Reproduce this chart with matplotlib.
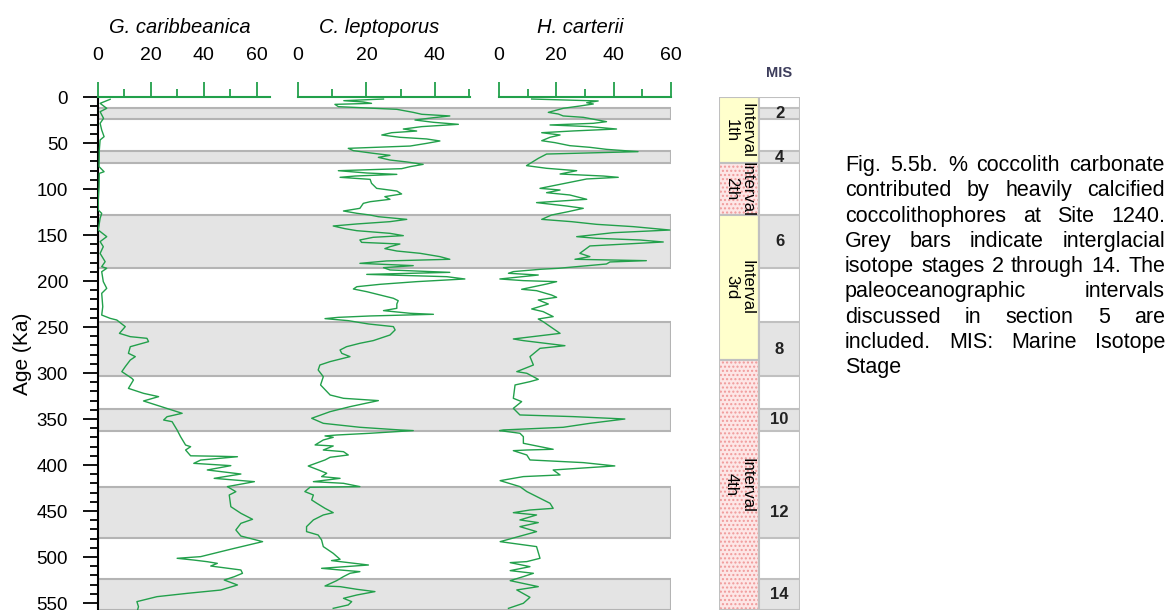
import numpy as np
import matplotlib
matplotlib.use('Agg')
import matplotlib.pyplot as plt
from matplotlib import font_manager
from matplotlib.patches import Rectangle
from matplotlib.ticker import MultipleLocator

# ---- data (age in Ka, % coccolith carbonate) ----
carib = np.array([
    (2.5, 4.6), (6.9, 0.8), (12.3, 3.3), (16.0, 0.8), (23.2, 2.1), (28.6, 0.8),
    (35.9, 1.4), (43.1, 2.3), (46.7, 0.8), (57.6, 0.5), (75.7, 0.4), (81.2, 2.3),
    (83.0, 0.5), (97.5, 0.4), (112.0, 0.1), (122.8, 0.1), (126.5, 1.4), (131.9, 0.8),
    (144.6, 0.1), (151.8, 3.3), (157.2, 0.8), (162.7, 2.0), (170.0, 0.8), (179.0, 2.7),
    (184.4, 1.4), (186.2, 3.3), (189.9, 1.4), (200.7, 2.0), (208.0, 3.3), (213.4, 1.4),
    (227.9, 1.8), (237.0, 1.4), (240.6, 4.6), (242.4, 7.1), (249.6, 10.3), (256.9, 8.1),
    (260.5, 12.2), (262.3, 18.5), (265.9, 19.1), (271.4, 12.2), (278.6, 11.5), (282.2, 14.1),
    (285.9, 12.2), (293.1, 10.3), (298.5, 9.0), (305.8, 12.8), (307.6, 13.4), (316.7, 11.5),
    (322.1, 17.2), (325.7, 22.9), (330.4, 17.2), (343.8, 31.8), (347.5, 26.1), (351.1, 24.8),
    (352.9, 28.0), (362.0, 29.9), (369.2, 31.2), (378.3, 33.1), (380.1, 35.0), (383.7, 33.1),
    (390.0, 35.0), (390.5, 45.8), (391.0, 52.7), (394.6, 38.8), (398.2, 36.2), (400.7, 50.2),
    (405.4, 41.3), (409.8, 54.0), (414.5, 43.9), (418.1, 59.1), (423.5, 48.9), (429.0, 52.1),
    (432.6, 49.6), (445.3, 50.2), (452.5, 54.0), (459.0, 58.4), (463.4, 54.0), (470.6, 52.1),
    (477.2, 54.0), (483.3, 62.2), (490.6, 51.5), (494.2, 46.4), (499.6, 38.8), (501.4, 29.9),
    (503.3, 36.2), (505.1, 41.3), (506.9, 45.1), (509.8, 42.6), (514.1, 54.0), (517.7, 54.6),
    (521.4, 51.5), (525.0, 47.7), (530.4, 52.7), (535.9, 46.4), (539.5, 33.7), (543.1, 22.3),
    (548.5, 14.7), (554.0, 15.3), (557.0, 15.0),
])

lepto = np.array([
    (2.2, 25.0), (4.0, 13.4), (5.4, 19.1), (6.9, 21.5), (8.0, 10.8), (10.5, 11.8),
    (13.4, 28.9), (16.7, 33.7), (18.8, 36.2), (20.6, 44.4), (22.5, 39.6), (25.0, 34.2),
    (27.5, 39.6), (29.7, 46.9), (32.2, 36.2), (34.8, 30.8), (37.0, 34.7), (38.8, 27.4),
    (41.3, 24.5), (43.8, 29.8), (45.6, 37.6), (47.8, 41.5), (50.4, 37.6), (53.3, 32.8),
    (55.8, 14.7), (58.3, 16.2), (61.2, 22.0), (63.4, 26.9), (65.6, 23.5), (68.5, 26.9),
    (70.6, 31.8), (73.2, 36.6), (75.7, 32.8), (77.9, 30.3), (80.1, 11.8), (82.6, 20.1),
    (84.1, 28.9), (85.9, 16.7), (87.3, 12.3), (89.5, 21.1), (93.8, 21.5), (99.3, 23.0),
    (102.2, 28.9), (105.4, 30.3), (108.3, 25.4), (111.2, 26.9), (113.8, 21.1), (115.6, 19.1),
    (121.0, 18.1), (123.9, 13.3), (126.4, 17.2), (128.3, 21.1), (130.1, 23.5), (133.0, 31.8),
    (135.5, 26.9), (138.0, 17.2), (140.2, 10.3), (143.1, 13.7), (145.3, 17.2), (148.2, 26.9),
    (150.7, 30.8), (152.5, 22.0), (155.4, 18.1), (158.0, 18.6), (159.8, 29.8), (162.7, 26.9),
    (164.8, 25.4), (167.4, 28.9), (169.9, 35.7), (173.5, 41.5), (176.4, 44.4), (178.2, 25.9),
    (180.8, 18.1), (183.3, 33.7), (185.5, 25.0), (188.0, 26.9), (190.6, 44.4), (192.8, 20.1),
    (195.3, 43.5), (197.8, 48.8), (200.7, 34.7), (203.6, 24.0), (206.2, 17.2), (208.7, 16.2),
    (211.6, 20.1), (215.2, 24.0), (218.8, 27.9), (221.4, 29.3), (225.0, 28.9), (229.7, 28.9),
    (232.2, 25.0), (235.1, 32.8), (236.2, 39.6), (238.0, 21.1), (239.5, 11.8), (240.9, 7.9),
    (243.1, 14.7), (246.7, 20.6), (249.6, 27.9), (253.2, 28.4), (258.7, 26.9), (264.8, 22.0),
    (267.7, 18.1), (271.4, 14.2), (275.0, 12.3), (278.6, 12.8), (282.2, 15.2), (287.6, 9.4),
    (291.3, 6.4), (296.7, 5.9), (304.0, 7.4), (313.0, 6.6), (323.9, 9.4), (327.5, 13.3),
    (330.0, 23.5), (336.6, 15.2), (342.0, 9.4), (349.2, 4.0), (354.7, 7.4), (359.0, 18.1),
    (361.9, 29.8), (362.6, 33.7), (365.5, 21.1), (367.4, 11.3), (368.4, 7.9), (369.9, 10.3),
    (372.8, 7.4), (378.2, 5.0), (379.3, 10.3), (383.7, 7.4), (385.5, 13.3), (389.1, 14.7),
    (391.6, 9.4), (394.5, 7.9), (401.1, 3.0), (405.4, 6.0), (409.0, 8.4), (412.6, 6.9),
    (414.5, 12.3), (418.1, 4.5), (419.9, 13.3), (423.5, 18.1), (424.2, 3.5), (428.9, 2.0),
    (432.6, 4.5), (438.0, 4.0), (441.6, 5.5), (447.1, 7.9), (451.8, 10.3), (454.3, 7.4),
    (459.7, 4.5), (467.0, 2.5), (472.4, 2.5), (476.1, 5.9), (481.5, 6.9), (488.7, 7.4),
    (496.0, 10.3), (502.5, 12.3), (503.9, 9.8), (508.7, 20.6), (512.3, 6.9), (514.1, 12.3),
    (515.9, 18.1), (517.7, 15.2), (521.3, 13.3), (525.7, 11.3), (531.5, 7.9), (532.2, 12.3),
    (535.1, 17.2), (537.6, 22.5), (541.3, 17.2), (544.9, 13.3), (548.5, 15.7), (552.1, 14.7),
    (555.8, 10.3),
])

carterii = np.array([
    (2.2, 11.4), (3.3, 23.0), (4.3, 34.6), (6.2, 30.6), (7.6, 32.9), (9.8, 28.2),
    (12.3, 22.4), (16.7, 17.2), (18.5, 20.7), (20.6, 22.4), (22.1, 29.4), (26.8, 37.5),
    (28.6, 32.9), (30.4, 17.8), (32.2, 31.7), (34.8, 41.0), (36.9, 25.9), (38.8, 14.9),
    (41.3, 21.3), (43.8, 17.8), (47.5, 14.9), (49.6, 19.5), (52.9, 24.7), (54.7, 31.7),
    (56.9, 37.5), (59.4, 48.5), (62.0, 16.6), (66.7, 13.7), (74.6, 9.6), (77.5, 16.6),
    (80.1, 27.1), (83.7, 21.3), (85.9, 36.4), (87.3, 41.6), (89.1, 30.6), (99.3, 14.3),
    (101.1, 21.3), (104.0, 16.6), (106.5, 24.7), (111.2, 30.6), (114.8, 13.1), (118.5, 23.6),
    (121.0, 29.4), (124.6, 24.2), (128.3, 18.3), (133.0, 14.9), (135.5, 25.3), (138.4, 34.0),
    (140.9, 46.8), (144.6, 59.6), (147.5, 39.8), (151.8, 27.1), (153.6, 34.0), (155.4, 49.1),
    (157.6, 57.3), (161.9, 31.7), (169.9, 28.2), (173.5, 31.7), (176.4, 26.5), (177.9, 51.4),
    (179.3, 38.7), (181.5, 37.5), (186.2, 20.7), (187.3, 14.3), (189.8, 5.0), (191.6, 3.3),
    (193.5, 13.7), (197.8, 0.3), (199.6, 8.5), (200.7, 20.1), (203.3, 16.6), (209.0, 7.9),
    (210.5, 13.1), (215.2, 18.3), (217.7, 20.1), (220.6, 13.7), (225.0, 17.2), (230.4, 11.4),
    (233.3, 15.4), (238.7, 18.9), (241.3, 13.7), (244.2, 15.4), (256.9, 21.3), (263.0, 5.0),
    (264.8, 8.5), (270.3, 23.0), (273.2, 14.3), (282.2, 10.8), (291.3, 12.0), (298.5, 6.2),
    (300.3, 9.7), (306.9, 13.7), (309.4, 10.8), (313.0, 5.6), (327.5, 5.0), (331.1, 7.9),
    (338.4, 5.0), (345.6, 7.3), (347.4, 25.9), (350.0, 43.9), (354.7, 31.7), (359.0, 22.4),
    (361.9, 1.5), (362.6, 0.2), (365.5, 7.3), (369.2, 8.5), (376.4, 8.5), (382.9, 18.9),
    (383.7, 9.7), (384.4, 5.0), (389.1, 9.7), (394.5, 10.8), (397.4, 29.4), (401.0, 40.4),
    (405.4, 18.9), (410.8, 21.3), (412.6, 8.5), (417.0, 0.4), (423.5, 7.3), (428.9, 9.7),
    (441.6, 17.8), (447.1, 18.9), (448.9, 10.8), (451.8, 5.0), (454.3, 13.1), (459.7, 7.3),
    (462.6, 13.7), (467.0, 7.3), (472.4, 13.1), (483.3, 0.4), (488.7, 13.1), (501.4, 14.3),
    (505.0, 9.7), (506.1, 3.9), (510.5, 10.8), (514.8, 3.9), (517.7, 12.0), (521.3, 8.5),
    (525.7, 3.9), (532.2, 13.7), (535.8, 6.2), (543.8, 10.8), (550.3, 8.5), (555.8, 3.3),
])

species = ['G. caribbeanica', 'C. leptoporus', 'H. carterii']
species_xmax = [65, 50.3, 60]

# marine isotope stages (interglacials, grey bars)
mis_top = [12, 59, 128, 245, 339, 424, 524]
mis_bottom = [24, 72, 186, 303, 363, 479, 558]
mis_labels = ['2', '4', '6', '8', '10', '12', '14']

# paleoceanographic intervals
interval_top = [0, 72, 128, 286]
interval_bottom = [72, 128, 286, 558]
interval_labels = ['1th', '2th', '3rd', '4th']

caption_lines = [
    'Fig. 5.5b. % coccolith carbonate',
    'contributed by heavily calcified',
    'coccolithophores at Site 1240.',
    'Grey bars indicate interglacial',
    'isotope stages 2 through 14. The',
    'paleoceanographic intervals',
    'discussed in section 5 are',
    'included. MIS: Marine Isotope',
    'Stage',
]

# ---- layout helpers (pixel based) ----
W, H = 1176, 610
AGE_MAX = 557.6
GREEN = '#22a04b'
plt.rcParams['font.family'] = ['Liberation Sans', 'DejaVu Sans']

fig = plt.figure(figsize=(W / 100, H / 100), dpi=100)


def px_axes(x0, x1, y0=97, y1=610):
    return fig.add_axes([x0 / W, 1 - y1 / H, (x1 - x0) / W, (y1 - y0) / H])


# background: grey bars + age axis
ax0 = px_axes(98, 671)
ax0.set_xlim(0, 1)
ax0.set_ylim(AGE_MAX, 0)
for t, b in zip(mis_top, mis_bottom):
    ax0.add_patch(Rectangle((0, t), 1, b - t, fc='#e4e4e4', ec='#b4b4b4', lw=1.5))
for s in ['top', 'right', 'bottom']:
    ax0.spines[s].set_visible(False)
ax0.spines['left'].set_linewidth(1.5)
ax0.spines['left'].set_zorder(5)
ax0.set_xticks([])
ax0.yaxis.set_major_locator(MultipleLocator(50))
ax0.yaxis.set_minor_locator(MultipleLocator(10))
ax0.tick_params(axis='y', which='major', length=10.5, width=1.3, labelsize=13.5, pad=11)
ax0.tick_params(axis='y', which='minor', length=6, width=1.3)
fig.text(22 / W, 1 - 354 / H, 'Age (Ka)', rotation=90, ha='center', va='center', fontsize=15)

# species panels
lefts = [98, 298, 499]
title_x = [179.5, 379.5, 580]
for name, data, left, xmax, tx in zip(species, [carib, lepto, carterii], lefts, species_xmax, title_x):
    ax = px_axes(left, left + 172)
    ax.set_facecolor('none')
    ax.plot(data[:, 1], data[:, 0], color=GREEN, lw=1.0)
    ax.set_xlim(0, xmax)
    ax.set_ylim(AGE_MAX, 0)
    for s in ['left', 'right', 'bottom']:
        ax.spines[s].set_visible(False)
    ax.spines['top'].set_color(GREEN)
    ax.spines['top'].set_linewidth(1.5)
    ax.set_yticks([])
    ax.xaxis.tick_top()
    ax.xaxis.set_major_locator(MultipleLocator(20))
    ax.xaxis.set_minor_locator(MultipleLocator(10))
    ax.tick_params(axis='x', which='major', length=11, width=1.3, color=GREEN,
                   labelsize=14, pad=13)
    ax.tick_params(axis='x', which='minor', length=6, width=1.3, color=GREEN)
    fig.text(tx / W, 1 - 33 / H, name, ha='center', va='baseline',
             style='italic', fontsize=14.5)

# interval + MIS columns
axc = px_axes(719, 800)
axc.set_xlim(0, 81)
axc.set_ylim(AGE_MAX, 0)
axc.axis('off')
for i, (t, b, lab) in enumerate(zip(interval_top, interval_bottom, interval_labels)):
    if i % 2 == 0:
        r = Rectangle((0, t), 40, b - t, fc='#ffffcc', ec='none')
        axc.add_patch(r)
    else:
        r = Rectangle((0, t), 40, b - t, fc='#fde6e6', ec='none')
        axc.add_patch(r)
        axc.add_patch(Rectangle((0, t), 40, b - t, fill=False, hatch='....',
                                ec='#f09a9a', lw=0))
    axc.add_patch(Rectangle((0, t), 40, b - t, fill=False, ec='#c0c0c0', lw=1.5))
    mid = (t + min(b, AGE_MAX)) / 2
    txt = axc.text(20, mid, 'Interval\n' + lab, rotation=-90, ha='center', va='center',
                   fontsize=12, linespacing=1.0, multialignment='center')
    txt.set_clip_path(r)

axc.add_patch(Rectangle((40, 0), 41, AGE_MAX, fc='white', ec='#c0c0c0', lw=1.5))
for t, b, lab in zip(mis_top, mis_bottom, mis_labels):
    axc.add_patch(Rectangle((40, t), 41, b - t, fc='#e4e4e4', ec='#c0c0c0', lw=1.5))
    mid = (t + min(b, AGE_MAX)) / 2
    axc.text(60.5, mid, lab, ha='center', va='center', fontsize=12,
             fontweight='bold', color='#222222')
fig.text(779 / W, 1 - 73 / H, 'MIS', ha='center', va='center', fontsize=10.5,
         fontweight='bold', color='#3d3d5c')


# caption, justified
def has_font(name):
    try:
        font_manager.findfont(font_manager.FontProperties(family=name),
                              fallback_to_default=False)
        return True
    except ValueError:
        return False


if has_font('Liberation Sans Narrow'):
    cap_family, cap_size = 'Liberation Sans Narrow', 17
else:
    cap_family, cap_size = 'Liberation Sans', 15.5

renderer = fig.canvas.get_renderer()
cap_left, cap_right = 845, 1165
for i, line in enumerate(caption_lines):
    words = line.split()
    y = 1 - (171 + i * 25.3) / H
    texts = [fig.text(0, y, w, family=cap_family, fontsize=cap_size, va='baseline')
             for w in words]
    widths = [t.get_window_extent(renderer).width for t in texts]
    if i == len(caption_lines) - 1 or len(words) == 1:
        gap = cap_size * 0.28 * 100 / 72
    else:
        gap = (cap_right - cap_left - sum(widths)) / (len(words) - 1)
    x = cap_left
    for t, w in zip(texts, widths):
        t.set_x(x / W)
        x += w + gap

fig.savefig('out.png', dpi=100)
